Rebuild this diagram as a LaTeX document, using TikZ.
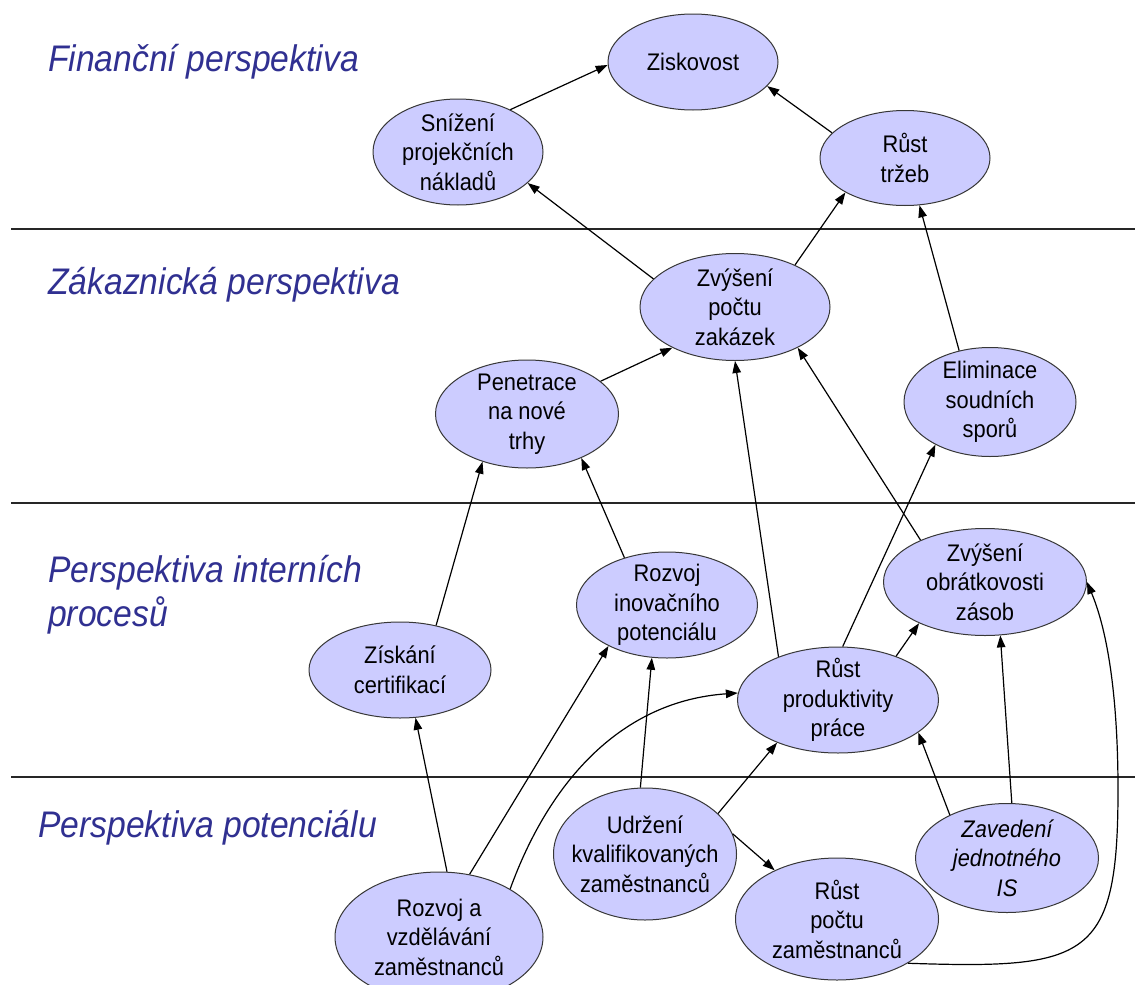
\documentclass[tikz,border=0pt]{standalone}
\usepackage{fontspec}
\setmainfont{Liberation Sans}
\newfontfamily\goalfont[FakeStretch=0.91]{Liberation Sans}
\usetikzlibrary{shapes.geometric,arrows.meta}
\definecolor{headblue}{RGB}{48,48,145}
\definecolor{goalfill}{RGB}{204,204,255}
\definecolor{goalline}{RGB}{55,55,55}
\begin{document}
\begin{tikzpicture}[x=1pt,y=-1pt,
  goal/.style={ellipse, draw=goalline, line width=1pt, fill=goalfill,
    inner xsep=-40pt, inner ysep=-40pt, align=center, text=black,
    font=\goalfont\fontsize{24}{29.5}\selectfont},
  heading/.style={anchor=base west, inner sep=0pt, text=headblue,
    font=\goalfont\fontsize{37}{44}\selectfont\itshape},
  divider/.style={line width=1.3pt, black!85},
  link/.style={-{Triangle[length=12pt,width=8.5pt]}, line width=1.2pt, black},
]
\fill[white] (0,0) rectangle (1135,985);
\useasboundingbox (0,0) rectangle (1135,985);

% perspective dividers
\draw[divider] (11,229) -- (1135,229);
\draw[divider] (11,503) -- (1135,503);
\draw[divider] (11,777) -- (1135,777);

% perspective headings
\node[heading] (hfin)  at (48,71)  {Finanční perspektiva};
\node[heading] (hzak)  at (48,294) {Zákaznická perspektiva};
\node[heading] (hint1) at (48,582) {Perspektiva interních};
\node[heading] (hint2) at (48,626) {procesů};
\node[heading] (hpot)  at (38,837) {Perspektiva potenciálu};

% goals
\node[goal, minimum width=170pt, minimum height=96pt]  (zisk)  at (693,62)  {Ziskovost};
\node[goal, minimum width=170pt, minimum height=106pt] (sniz)  at (458,152) {Snížení\\projekčních\\nákladů};
\node[goal, minimum width=170pt, minimum height=95pt]  (trzeb) at (905,158) {Růst\\tržeb};
\node[goal, minimum width=190pt, minimum height=107pt] (zakaz) at (735,307) {Zvýšení\\počtu\\zakázek};
\node[goal, minimum width=183pt, minimum height=108pt] (penet) at (527,414) {Penetrace\\na nové\\trhy};
\node[goal, minimum width=172pt, minimum height=109pt] (elim)  at (990,402) {Eliminace\\soudních\\sporů};
\node[goal, minimum width=181pt, minimum height=106pt] (inov)  at (667,605) {Rozvoj\\inovačního\\potenciálu};
\node[goal, minimum width=203pt, minimum height=107pt] (obrat) at (985,582) {Zvýšení\\obrátkovosti\\zásob};
\node[goal, minimum width=182pt, minimum height=96pt]  (cert)  at (400,670) {Získání\\certifikací};
\node[goal, minimum width=201pt, minimum height=106pt] (prod)  at (838,700) {Růst\\produktivity\\práce};
\node[goal, minimum width=183pt, minimum height=132pt] (udrz)  at (645,854) {Udržení\\kvalifikovaných\\zaměstnanců};
\node[goal, minimum width=203pt, minimum height=122pt] (pocet) at (837,919) {Růst\\počtu\\zaměstnanců};
\node[goal, minimum width=183pt, minimum height=109pt,
      font=\goalfont\fontsize{24}{29.5}\selectfont\itshape] (zaved) at (1007,858) {Zavedení\\jednotného\\IS};
\node[goal, minimum width=208pt, minimum height=130pt] (vzd)   at (439,937) {Rozvoj a\\vzdělávání\\zaměstnanců};

% cause-and-effect links
\draw[link] (sniz.39)   -- (zisk.182);
\draw[link] (trzeb.161) -- (zisk.-18);
\draw[link] (zakaz.161) -- (sniz.-24);
\draw[link] (zakaz.35)  -- (trzeb.210);
\draw[link] (elim.121)  -- (trzeb.-73);
\draw[link] (penet.24)  -- (zakaz.213);
\draw[link] (cert.51)   -- (penet.227);
\draw[link] (inov.132)  -- (penet.-39);
\draw[link] (prod.144)  -- (zakaz.-90);
\draw[link] (obrat.147) -- (zakaz.-33);
\draw[link] (prod.85)   -- (elim.218);
\draw[link] (prod.37)   -- (obrat.212);
\draw[link] (vzd.83)    -- (cert.-72);
\draw[link] (vzd.64)    -- (inov.215);
\draw[link] (vzd.34) .. controls +(40,-110) and +(-115,8) .. (prod.176);
\draw[link] (udrz.94)   -- (inov.254);
\draw[link] (udrz.29)   -- (prod.215);
\draw[link] (udrz.13)   -- (pocet.142);
\draw[link] (zaved.143) -- (prod.-22);
\draw[link] (zaved.85)  -- (obrat.-74);
\coordinate (bend) at (1118,790);
\draw[link] (pocet.-32) .. controls +(180,6) and +(0,170) .. (bend)
                        .. controls +(0,-70) and +(25,60) .. (obrat.0);
\end{tikzpicture}
\end{document}
